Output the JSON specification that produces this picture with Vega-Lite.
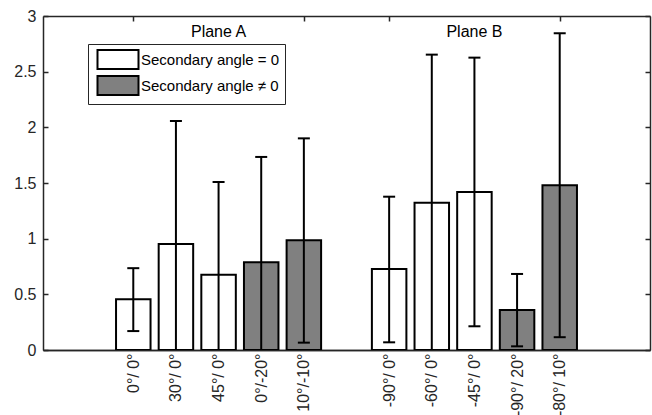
{
  "$schema": "https://vega.github.io/schema/vega-lite/v6.json",
  "width": 607,
  "height": 334,
  "autosize": "none",
  "padding": {"left": 43, "top": 16, "right": 2, "bottom": 65},
  "background": "white",
  "datasets": {
    "bars": [
      {"pos": 1, "label": "0°/ 0°", "group": "Secondary angle = 0", "value": 0.455, "lo": 0.17, "hi": 0.735},
      {"pos": 2, "label": "30°/ 0°", "group": "Secondary angle = 0", "value": 0.952, "lo": -0.16, "hi": 2.057},
      {"pos": 3, "label": "45°/ 0°", "group": "Secondary angle = 0", "value": 0.677, "lo": -0.155, "hi": 1.509},
      {"pos": 4, "label": "0°/-20°", "group": "Secondary angle ≠ 0", "value": 0.788, "lo": -0.16, "hi": 1.734},
      {"pos": 5, "label": "10°/-10°", "group": "Secondary angle ≠ 0", "value": 0.985, "lo": 0.066, "hi": 1.901},
      {"pos": 7, "label": "-90°/ 0°", "group": "Secondary angle = 0", "value": 0.727, "lo": 0.069, "hi": 1.377},
      {"pos": 8, "label": "-60°/ 0°", "group": "Secondary angle = 0", "value": 1.323, "lo": -0.01, "hi": 2.653},
      {"pos": 9, "label": "-45°/ 0°", "group": "Secondary angle = 0", "value": 1.419, "lo": 0.213, "hi": 2.626},
      {"pos": 10, "label": "-90°/ 20°", "group": "Secondary angle ≠ 0", "value": 0.359, "lo": 0.033, "hi": 0.683},
      {"pos": 11, "label": "-80°/ 10°", "group": "Secondary angle ≠ 0", "value": 1.48, "lo": 0.115, "hi": 2.845}
    ],
    "planes": [
      {"px": 3, "py": 2.81, "plane": "Plane A"},
      {"px": 9, "py": 2.81, "plane": "Plane B"}
    ]
  },
  "resolve": {"axis": {"x": "independent", "y": "independent"}},
  "layer": [
    {
      "data": {"name": "bars"},
      "mark": {"type": "bar", "size": 34.5, "stroke": "black", "strokeWidth": 2, "clip": true},
      "encoding": {
        "x": {
          "field": "pos", "type": "quantitative",
          "scale": {"domain": [-1, 13], "nice": false, "zero": false},
          "axis": {
            "orient": "bottom", "title": null, "values": [1, 2, 3, 4, 5, 7, 8, 9, 10, 11],
            "ticks": false, "labelAngle": -90, "labelPadding": 3, "labelFontSize": 16,
            "labelExpr": "{'1':'0°/ 0°','2':'30°/ 0°','3':'45°/ 0°','4':'0°/-20°','5':'10°/-10°','7':'-90°/ 0°','8':'-60°/ 0°','9':'-45°/ 0°','10':'-90°/ 20°','11':'-80°/ 10°'}[datum.value]"
          }
        },
        "y": {
          "field": "value", "type": "quantitative",
          "scale": {"domain": [0, 3], "nice": false, "zero": true},
          "axis": {
            "orient": "left", "title": null, "values": [0, 0.5, 1, 1.5, 2, 2.5, 3],
            "format": ".1~f", "tickSize": -5, "labelPadding": 12
          }
        },
        "fill": {
          "field": "group", "type": "nominal",
          "scale": {"domain": ["Secondary angle = 0", "Secondary angle ≠ 0"], "range": ["white", "#808080"]},
          "legend": {
            "orient": "none", "legendX": 45, "legendY": 28, "title": null,
            "symbolType": "M-2.158,-1H2.158V1H-2.158Z", "symbolSize": 361, "symbolOffset": 14.5,
            "symbolStrokeColor": "black", "symbolStrokeWidth": 2,
            "labelFontSize": 15, "labelFont": "Liberation Sans", "labelColor": "black",
            "labelOffset": 12.5, "rowPadding": -1,
            "strokeColor": "#262626", "fillColor": "white", "padding": 5
          }
        }
      }
    },
    {
      "data": {"name": "bars"},
      "mark": {"type": "rule", "color": "black", "strokeWidth": 2, "clip": true},
      "encoding": {
        "x": {
          "field": "pos", "type": "quantitative",
          "axis": {"orient": "bottom", "title": null, "values": [1, 5, 7, 11], "labels": false, "tickSize": -5}
        },
        "y": {
          "field": "lo", "type": "quantitative",
          "axis": {"orient": "right", "title": null, "values": [0, 0.5, 1, 1.5, 2, 2.5, 3], "labels": false, "tickSize": -5}
        },
        "y2": {"field": "hi"}
      }
    },
    {
      "data": {"name": "bars"},
      "mark": {"type": "tick", "orient": "horizontal", "size": 12, "thickness": 2, "color": "black", "opacity": 1, "clip": true},
      "encoding": {
        "x": {
          "field": "pos", "type": "quantitative",
          "axis": {"orient": "top", "title": null, "values": [1, 5, 7, 11], "labels": false, "tickSize": -5}
        },
        "y": {"field": "hi", "type": "quantitative", "axis": null}
      }
    },
    {
      "data": {"name": "bars"},
      "mark": {"type": "tick", "orient": "horizontal", "size": 12, "thickness": 2, "color": "black", "opacity": 1, "clip": true},
      "encoding": {
        "x": {"field": "pos", "type": "quantitative", "axis": null},
        "y": {"field": "lo", "type": "quantitative", "axis": null}
      }
    },
    {
      "data": {"name": "planes"},
      "mark": {"type": "text", "font": "Liberation Sans", "fontSize": 16, "color": "black", "align": "center", "baseline": "alphabetic"},
      "encoding": {
        "x": {"field": "px", "type": "quantitative", "axis": null},
        "y": {"field": "py", "type": "quantitative", "axis": null},
        "text": {"field": "plane"}
      }
    }
  ],
  "config": {
    "view": {"stroke": null},
    "axis": {
      "grid": false, "domainColor": "#262626", "domainWidth": 1.5, "tickColor": "#262626", "tickWidth": 1.5,
      "labelColor": "#262626", "labelFont": "Liberation Sans", "labelFontSize": 16
    }
  }
}
